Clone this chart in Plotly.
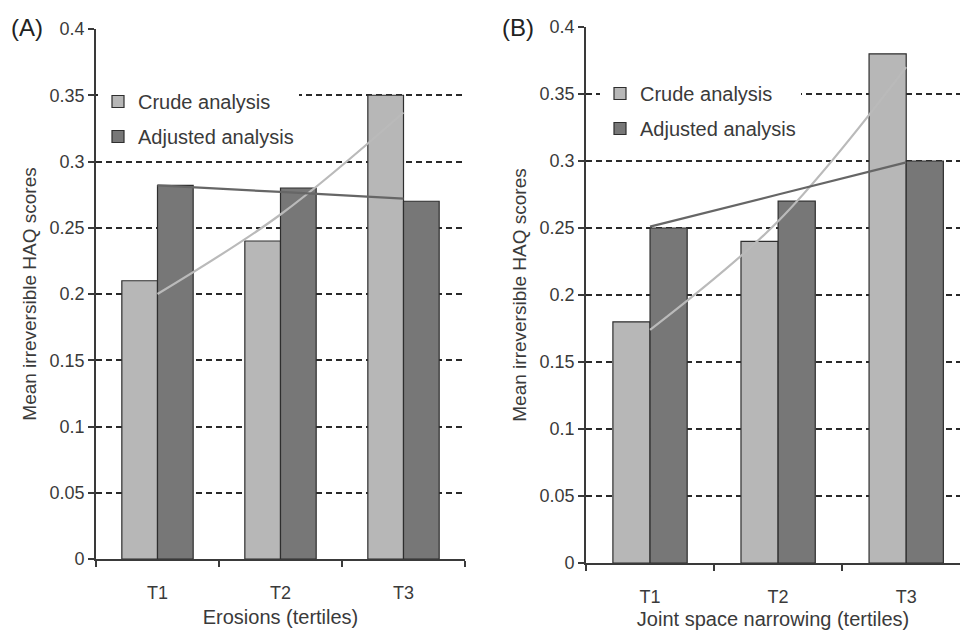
import plotly.graph_objects as go

categories = ["T1", "T2", "T3"]

# Panel A: Erosions (tertiles)
crude_a = [0.21, 0.24, 0.35]
adjusted_a = [0.282, 0.28, 0.27]
crude_trend_a = [0.20, 0.26, 0.337]
adjusted_trend_a = [0.282, 0.277, 0.272]

# Panel B: Joint space narrowing (tertiles)
crude_b = [0.18, 0.24, 0.38]
adjusted_b = [0.25, 0.27, 0.30]
crude_trend_b = [0.174, 0.255, 0.37]
adjusted_trend_b = [0.251, 0.275, 0.299]

series_names = ["Crude analysis", "Adjusted analysis"]
y_ticks = [0, 0.05, 0.1, 0.15, 0.2, 0.25, 0.3, 0.35, 0.4]

W, H = 960, 630
CRUDE = "#b7b7b7"
ADJ = "#777777"
EDGE = "#2e2e2e"
FONT = "Liberation Sans, Arial, sans-serif"
TXT = "#3a3a3a"

fig = go.Figure()

def add_panel(xa, ya, crude, adj, ctr, atr, legend):
    fig.add_trace(go.Bar(x=categories, y=crude, name=series_names[0], xaxis=xa, yaxis=ya,
                         marker=dict(color=CRUDE, line=dict(color=EDGE, width=1.2)),
                         legend=legend, legendgroup="c" + legend, showlegend=True))
    fig.add_trace(go.Bar(x=categories, y=adj, name=series_names[1], xaxis=xa, yaxis=ya,
                         marker=dict(color=ADJ, line=dict(color=EDGE, width=1.2)),
                         legend=legend, legendgroup="a" + legend, showlegend=True))
    fig.add_trace(go.Scatter(x=categories, y=ctr, mode="lines", xaxis=xa, yaxis=ya,
                             line=dict(color="#bababa", width=2.2, shape="spline"),
                             showlegend=False, hoverinfo="skip"))
    fig.add_trace(go.Scatter(x=categories, y=atr, mode="lines", xaxis=xa, yaxis=ya,
                             line=dict(color="#666666", width=2.2, shape="spline"),
                             showlegend=False, hoverinfo="skip"))

add_panel("x", "y", crude_a, adjusted_a, crude_trend_a, adjusted_trend_a, "legend")
add_panel("x2", "y2", crude_b, adjusted_b, crude_trend_b, adjusted_trend_b, "legend2")

def xaxis(domain, rng, title, anchor):
    return dict(domain=domain, range=rng, type="category", showline=True, linecolor="#3a3a3a",
                linewidth=1.7, ticks="outside", ticklen=6, tickcolor="#3a3a3a", tickwidth=1.7,
                tickson="boundaries", showgrid=False, zeroline=False, automargin=False,
                anchor=anchor,
                tickfont=dict(family=FONT, size=18, color=TXT), ticklabelstandoff=17,
                title=dict(text=title, font=dict(family=FONT, size=20, color=TXT), standoff=8))

def yaxis(domain, anchor):
    return dict(domain=domain, range=[0, 0.4], tickvals=y_ticks, showline=True, linecolor="#3a3a3a",
                linewidth=1.7, ticks="outside", ticklen=6, tickcolor="#3a3a3a", tickwidth=1.7,
                showgrid=True, gridcolor="#2a2a2a", gridwidth=1.5, griddash="6px,4px",
                zeroline=False, automargin=False, anchor=anchor,
                tickfont=dict(family=FONT, size=18, color=TXT),
                title=dict(text="Mean irreversible HAQ scores",
                           font=dict(family=FONT, size=19, color=TXT), standoff=8))

legend_style = dict(bgcolor="white", borderwidth=0, traceorder="grouped", tracegroupgap=6,
                    font=dict(family=FONT, size=20, color=TXT), xanchor="left", yanchor="top")

fig.update_layout(
    width=W, height=H, margin=dict(l=0, r=0, t=0, b=0),
    paper_bgcolor="white", plot_bgcolor="white",
    barmode="group", bargap=0.42, bargroupgap=0,
    xaxis=xaxis([96 / W, 465 / W], [-0.5, 2.5], "Erosions (tertiles)", "y"),
    yaxis=yaxis([1 - 559 / H, 1 - 29 / H], "x"),
    xaxis2=xaxis([586 / W, 1.0], [-0.5, 2.42], "Joint space narrowing (tertiles)", "y2"),
    yaxis2=yaxis([1 - 563 / H, 1 - 27 / H], "x2"),
    legend=dict(x=98 / W, y=1 - 82 / H, **legend_style),
    legend2=dict(x=600 / W, y=1 - 74 / H, **legend_style),
    annotations=[
        dict(text="(A)", x=9 / W, y=1 - 28 / H, xref="paper", yref="paper", xanchor="left",
             yanchor="middle", showarrow=False, font=dict(family=FONT, size=24, color="#222")),
        dict(text="(B)", x=500 / W, y=1 - 28 / H, xref="paper", yref="paper", xanchor="left",
             yanchor="middle", showarrow=False, font=dict(family=FONT, size=24, color="#222")),
    ],
)

fig.write_html("out.html")
